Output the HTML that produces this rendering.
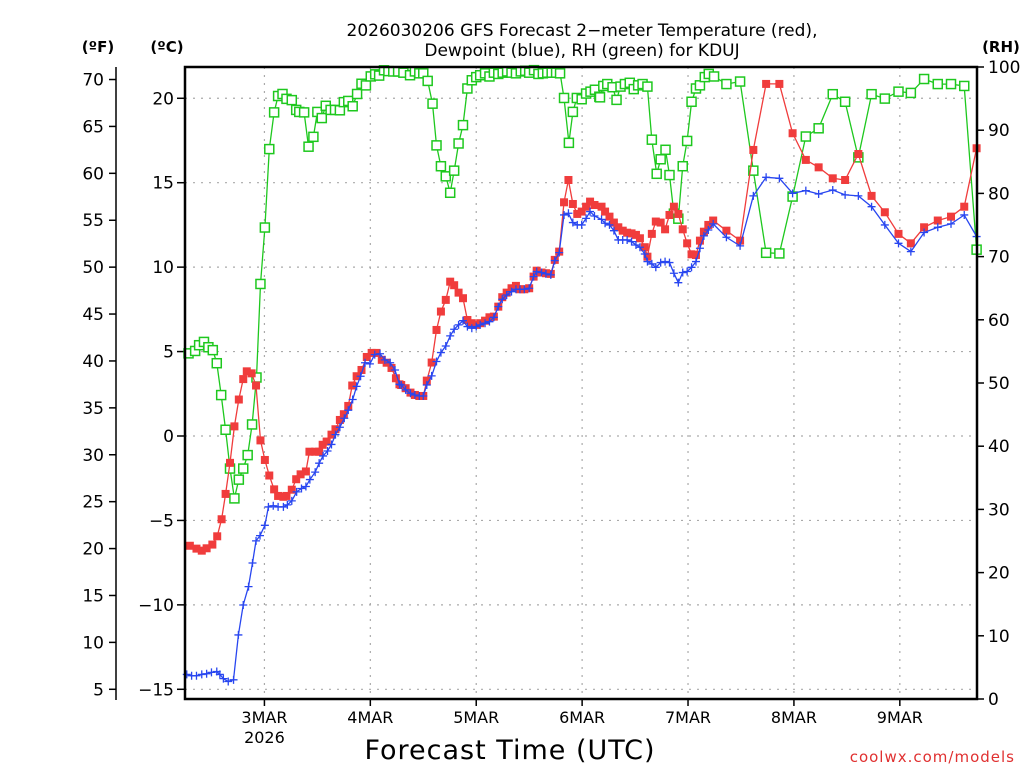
<!DOCTYPE html>
<html><head><meta charset="utf-8"><style>
body{margin:0;background:#fff;}
svg{display:block;font-family:"DejaVu Sans","Liberation Sans",sans-serif;}
</style></head><body>
<svg id="chart" width="1024" height="768" viewBox="0 0 1024 768">
<text x="582" y="36" font-size="17" text-anchor="middle" fill="#000">2026030206 GFS Forecast 2−meter Temperature (red),</text>
<text x="582" y="56" font-size="17" text-anchor="middle" fill="#000">Dewpoint (blue), RH (green) for KDUJ</text>
<text x="98" y="52" font-size="15" font-weight="bold" text-anchor="middle">(ºF)</text>
<text x="167" y="52" font-size="15" font-weight="bold" text-anchor="middle">(ºC)</text>
<text x="1001" y="52" font-size="15" font-weight="bold" text-anchor="middle">(RH)</text>
<text x="510" y="759" font-size="27" text-anchor="middle" fill="#000" letter-spacing="1">Forecast Time (UTC)</text>
<text x="1015" y="762" font-size="15" text-anchor="end" fill="#e03030" letter-spacing="1">coolwx.com/models</text>
<g id="grid"></g>
<g id="axes"></g>
<g id="series"></g>
<rect x="185" y="67" width="792" height="632" fill="none" stroke="#000" stroke-width="2.5"/>
</svg>
<script>
const tempHours=[1.1,2.6,3.8,4.9,6.2,7.3,8.3,9.2,10.2,11.2,12.2,13.2,14,15.1,16.1,17.1,18.1,19.1,20.2,21.1,22.3,23,24.2,25.2,26.2,27.4,28.2,29.5,30.4,31.2,32.1,33.2,34.1,35.1,36,37,37.9,38.9,40,41.2,42.3,43.4,44.6,45.7,46.8,47.8,48.6,
49,50,51.1,52.1,53.1,54,54.8,55.9,57,58,59.1,60.1,61,62,63,64,65,66,66.9,68,69,70,71,71.9,72.9,74,75,75.9,76.9,78,79,79.7,80.8,81.8,82.9,83.8,84.8,85.9,86.9,87.9,88.9,89.9,90.9,91.8,92.8,
94.4,95.2,96.2,97.2,98.2,99.2,100.2,101.2,102.2,103.1,104.2,104.8,105.8,106.7,107.8,108.8,109.8,110.8,111.8,112.8,113.8,114.8,115.8,116.7,117.6,118.6,119.7,122.7,125.8,128.8,131.7,134.7,137.7,140.7,143.6,146.8,149.6,152.6,155.6,158.6,161.7,164.5,167.5,170.6,173.6,176.6,179.4];
const tempC=[-6.50,-6.67,-6.79,-6.65,-6.43,-5.94,-4.93,-3.43,-1.59,0.57,2.16,3.37,3.83,3.71,2.99,-0.26,-1.42,-2.34,-3.16,-3.55,-3.60,-3.55,-3.18,-2.56,-2.27,-2.10,-0.93,-0.93,-0.93,-0.52,-0.33,0.08,0.40,0.95,1.29,1.78,2.99,3.54,3.91,4.68,4.92,4.92,4.51,4.34,4.03,3.42,3.06,
3.02,2.83,2.57,2.43,2.37,2.37,3.28,4.35,6.28,7.37,8.06,9.14,8.93,8.49,8.16,6.87,6.68,6.58,6.68,6.83,7.03,7.07,7.66,8.22,8.49,8.75,8.89,8.69,8.69,8.75,9.44,9.79,9.68,9.64,9.60,10.43,10.92,13.84,15.16,13.74,13.15,13.29,13.58,13.88,13.68,
13.58,13.29,12.99,12.64,12.36,12.16,12.04,12.00,11.91,11.71,11.18,10.62,11.97,12.70,12.64,12.24,13.09,13.58,13.15,12.24,11.41,10.76,10.72,11.57,12.10,12.50,12.76,12.16,11.57,16.94,20.85,20.85,17.93,16.35,15.91,15.26,15.16,16.70,14.22,13.25,11.97,11.41,12.36,12.76,12.99,13.58,17.04];
const dewHours=[0.4,1.5,2.6,3.8,4.9,6,7.2,7.9,8.7,9.8,11,12.1,13.2,14.4,15.3,16.1,17,18.1,18.9,20,21.1,22.3,23.2,24.2,25.3,26.4,27.4,28.3,29.5,30.4,31.3,32.3,33.2,34.1,35.1,36.1,37,38,38.9,39.8,40.8,41.9,43,44.2,45.3,46.5,47.6,48.6,
49,50,51.1,52.1,53.1,54,54.8,55.9,57,58,59.1,60.1,61,62,63,64,65,66,66.9,68,69,70,71,71.9,72.9,74,75,75.9,76.9,78,79,79.7,80.8,81.8,82.9,83.8,84.8,85.9,86.9,87.9,88.9,89.9,90.9,91.8,92.8,
94.4,95.2,96.2,97.2,98.2,99.2,100.2,101.2,102.2,103.1,104.2,104.8,105.8,106.7,107.8,108.8,109.8,110.8,111.8,112.8,113.8,114.8,115.8,116.7,117.6,118.6,119.7,122.7,125.8,128.8,131.7,134.7,137.7,140.7,143.6,146.8,149.6,152.6,155.6,158.6,161.7,164.5,167.5,170.6,173.6,176.6,179.4];
const dewC=[-14.12,-14.20,-14.20,-14.12,-14.08,-14.00,-13.95,-14.12,-14.37,-14.54,-14.44,-11.78,-10.01,-8.92,-7.52,-6.21,-5.90,-5.29,-4.20,-4.13,-4.20,-4.20,-4.08,-3.84,-3.31,-3.11,-2.99,-2.58,-2.14,-1.61,-1.18,-0.89,-0.50,0.08,0.52,1.05,1.53,2.16,2.94,3.54,4.34,4.27,4.82,4.87,4.51,4.34,3.91,3.06,
3.02,2.73,2.53,2.43,2.37,2.37,3.02,3.56,4.41,4.94,5.33,5.93,6.32,6.58,6.83,6.48,6.38,6.48,6.58,6.68,6.77,7.03,7.66,8.10,8.35,8.55,8.69,8.69,8.69,8.75,9.44,9.74,9.68,9.60,9.54,10.39,10.86,13.09,13.19,12.64,12.50,12.50,12.89,13.29,13.03,
12.83,12.60,12.50,12.16,11.61,11.61,11.61,11.51,11.31,11.18,10.78,10.33,10.19,9.99,10.27,10.33,10.27,9.64,9.08,9.68,9.74,9.99,10.33,11.12,11.85,12.20,12.56,11.77,11.26,14.22,15.32,15.26,14.37,14.53,14.33,14.57,14.28,14.22,13.58,12.50,11.41,10.92,12.05,12.36,12.56,13.09,11.81];
const rhHours=[0.8,2.3,3.2,4.3,5.3,6.3,7.2,8.2,9.2,10.2,11.2,12.2,13.2,14.2,15.2,16.2,17.1,18.1,19.1,20.2,21.1,22.1,23,24.2,25.2,25.9,27,28,29.1,30,31,31.9,33,34,35.1,36,37,38,39,40,41,42.1,43.1,44,45.1,46.1,47.2,48.3,
49.5,51,52.1,53.1,54,55,56.1,57,58,59.1,60.1,61,62,63,64,65,66,66.9,68,69,70,71,72,73,74,75,76.1,77.1,78,79.1,80.1,81.1,82.1,83.1,84.1,85,85.9,87,87.9,88.8,89.9,90.9,91.9,92.9,93.9,
94.05,94.8,95.7,96.9,97.8,98.7,99.7,100.8,101.7,102.7,103.7,104.8,105.8,106.9,107.8,108.9,109.8,110.8,111.8,112.8,113.8,114.8,115.8,116.7,117.8,118.7,119.9,122.7,125.8,128.8,131.7,134.7,137.7,140.7,143.6,146.8,149.6,152.6,155.6,158.6,161.7,164.5,167.5,170.6,173.6,176.6,179.4];
const rhPct=[54.69,55.07,55.98,56.50,55.66,55.20,53.13,48.09,42.60,36.46,31.74,34.71,36.46,38.59,43.44,50.87,65.67,74.60,87.01,92.82,95.41,95.73,94.96,94.76,93.21,92.89,92.82,87.39,88.95,92.89,91.92,93.86,93.21,93.21,93.15,94.44,94.63,93.79,95.73,97.35,97.09,98.51,98.84,98.64,99.48,99.35,99.29,99.29,
99.1,98.7,99.3,99.0,99.0,97.8,94.2,87.6,84.3,82.7,80.1,83.6,87.9,90.8,96.6,97.9,98.4,98.7,99.0,98.5,99.1,98.9,99.1,99.3,99.1,99.0,99.3,99.4,99.1,99.5,98.9,99.0,99.1,99.1,99.1,99.0,95.1,88.0,92.9,95.1,94.9,95.8,96.1,96.4,95.3,
95.2,97.0,97.3,96.8,94.8,96.9,97.3,97.5,96.5,97.1,97.3,96.9,88.5,83.1,85.4,86.9,82.9,76.8,76.0,84.3,88.3,94.5,96.6,97.1,98.4,98.9,98.5,97.3,97.7,83.6,70.6,70.5,79.5,89.0,90.3,95.7,94.5,85.7,95.7,95.0,96.1,95.9,98.1,97.3,97.3,97.0,71.1];
const dayLabels=["3MAR","4MAR","5MAR","6MAR","7MAR","8MAR","9MAR"];
const dayHours=[18,42,66,90,114,138,162];
const cTicks=[20,15,10,5,0,-5,-10,-15];
const fTicks=[70,65,60,55,50,45,40,35,30,25,20,15,10,5];
const rhTicks=[100,90,80,70,60,50,40,30,20,10,0];

const NS="http://www.w3.org/2000/svg";
const X0=185,PXH=4.4125;
const xS=h=>X0+h*PXH;
const yC=c=>436-c*16.886;
const yF=f=>yC((f-32)*5/9);
const yR=r=>699-r*6.32;
function mk(tag,attrs,parent){const e=document.createElementNS(NS,tag);for(const k in attrs)e.setAttribute(k,attrs[k]);parent.appendChild(e);return e;}
const grid=document.getElementById('grid'),axes=document.getElementById('axes'),series=document.getElementById('series');
cTicks.forEach(c=>{
  const g=mk('line',{x1:185,x2:977,y1:yC(c),y2:yC(c),stroke:'#aaa','stroke-dasharray':'2,6','stroke-width':1.2},grid);
  
  
  const t=mk('line',{x1:177,x2:185,y1:yC(c),y2:yC(c),stroke:'#000','stroke-width':1.5},axes);
  
  
  const l=mk('text',{x:174,y:yC(c)+6,'font-size':17,'text-anchor':'end'},axes);
  l.textContent=(c<0?'−':'')+Math.abs(c);
  
  
});
const fl=mk('line',{x1:116,x2:116,y1:67,y2:700,stroke:'#000','stroke-width':1.5},axes);


fTicks.forEach(f=>{
  const t=mk('line',{x1:109,x2:116,y1:yF(f),y2:yF(f),stroke:'#000','stroke-width':1.5},axes);
  
  
  const l=mk('text',{x:104,y:yF(f)+6,'font-size':17,'text-anchor':'end'},axes);
  l.textContent=f;
  
  
});
rhTicks.forEach(r=>{
  const t=mk('line',{x1:977,x2:984,y1:yR(r),y2:yR(r),stroke:'#000','stroke-width':1.5},axes);
  
  
  const l=mk('text',{x:988,y:yR(r)+6,'font-size':17,'text-anchor':'start'},axes);
  l.textContent=r;
  
  
});
dayHours.forEach((h,i)=>{
  const x=xS(h);
  const g=mk('line',{x1:x,x2:x,y1:67,y2:699,stroke:'#aaa','stroke-dasharray':'2,6','stroke-width':1.2},grid);
  
  
  const t=mk('line',{x1:x,x2:x,y1:699,y2:706,stroke:'#000','stroke-width':1.5},axes);
  
  
  const l=mk('text',{x:x,y:723,'font-size':16,'text-anchor':'middle'},axes);
  l.textContent=dayLabels[i];
  
  
  if(i===0){
    const y=mk('text',{x:x,y:743,'font-size':16,'text-anchor':'middle'},axes);
    y.textContent='2026';
    
    
  }
});
function drawLine(hs,vs,yf,color,name){
  const n=Math.min(hs.length,vs.length);
  const pts=[];for(let i=0;i<n;i++)pts.push(xS(hs[i]).toFixed(1)+','+yf(vs[i]).toFixed(1));
  const p=mk('polyline',{points:pts.join(' '),fill:'none',stroke:color,'stroke-width':1.3},series);
  
  
  return n;
}
// RH
let n=drawLine(rhHours,rhPct,yR,'#1ec81e','rh-line');
for(let i=0;i<n;i++){
  const r=mk('rect',{x:xS(rhHours[i])-4.5,y:yR(rhPct[i])-4.5,width:9,height:9,fill:'#fff',stroke:'#1ec81e','stroke-width':1.5},series);
  
  
}
// Temp
n=drawLine(tempHours,tempC,yC,'#f03c3c','temperature-line');
for(let i=0;i<n;i++){
  const r=mk('rect',{x:xS(tempHours[i])-4,y:yC(tempC[i])-4,width:8,height:8,fill:'#f03c3c'},series);
  
  
}
// Dewpoint
n=drawLine(dewHours,dewC,yC,'#2846f0','dewpoint-line');
for(let i=0;i<n;i++){
  const x=xS(dewHours[i]),y=yC(dewC[i]);
  const p=mk('path',{d:`M${x-4},${y}H${x+4}M${x},${y-4}V${y+4}`,stroke:'#2846f0','stroke-width':1.3,fill:'none'},series);
  
  
}
</script>
</body></html>
